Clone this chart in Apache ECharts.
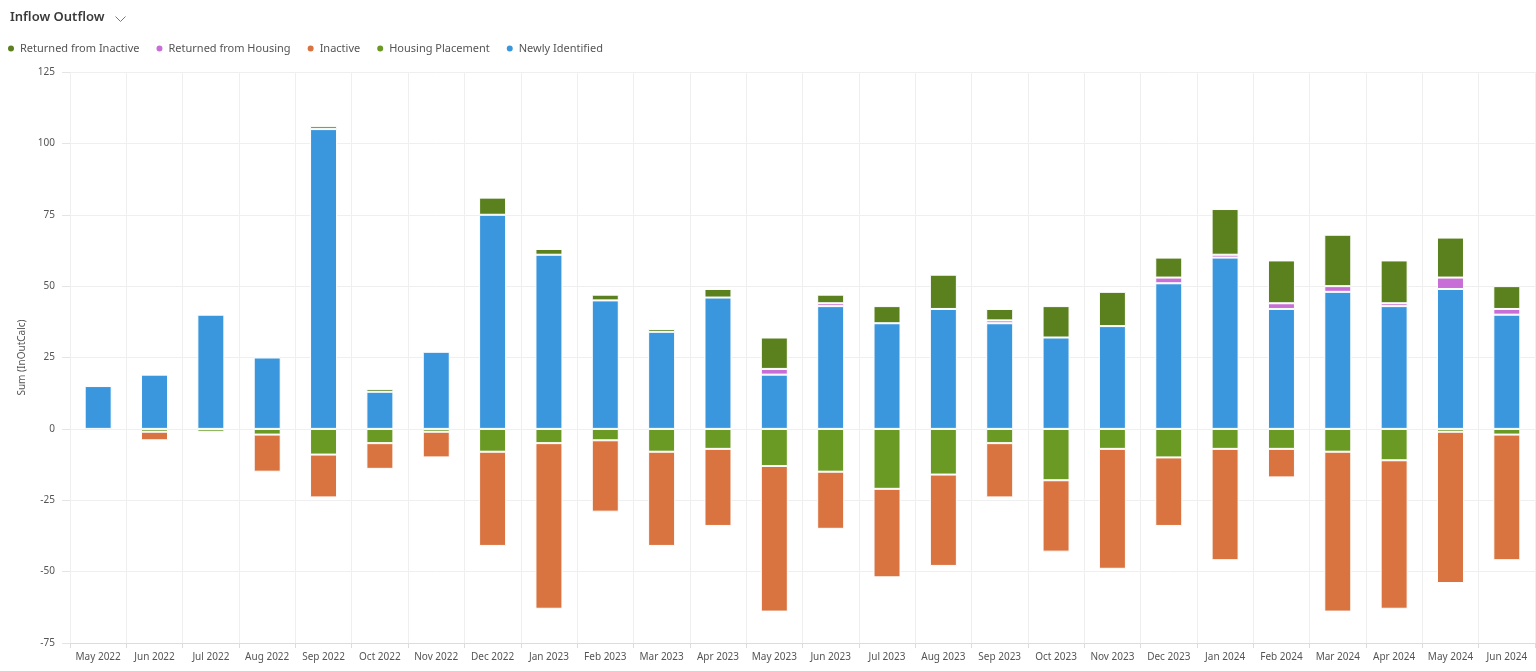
<!DOCTYPE html>
<html>
<head>
<meta charset="utf-8">
<script src="https://cdn.jsdelivr.net/npm/echarts@6/dist/echarts.min.js"></script>
<style>
html,body{margin:0;padding:0;background:#fff;}
#chart{width:1536px;height:671px;}
</style>
</head>
<body>
<div id="chart"></div>
<script>
const categories = ['May 2022','Jun 2022','Jul 2022','Aug 2022','Sep 2022','Oct 2022','Nov 2022','Dec 2022','Jan 2023','Feb 2023','Mar 2023','Apr 2023','May 2023','Jun 2023','Jul 2023','Aug 2023','Sep 2023','Oct 2023','Nov 2023','Dec 2023','Jan 2024','Feb 2024','Mar 2024','Apr 2024','May 2024','Jun 2024'];
const newlyIdentified   = [15, 19, 40, 25, 105, 13, 27, 75, 61, 45, 34, 46, 19, 43, 37, 42, 37, 32, 36, 51, 60, 42, 48, 43, 49, 40];
const returnedHousing   = [null, null, null, null, null, null, null, null, null, null, null, null, 2, 1, null, null, 1, null, null, 2, 1, 2, 2, 1, 4, 2];
const returnedInactive  = [null, null, null, null, 1, 1, null, 6, 2, 2, 1, 3, 11, 3, 6, 12, 4, 11, 12, 7, 16, 15, 18, 15, 14, 8];
const housingPlacement  = [null, -1, -1, -2, -9, -5, -1, -8, -5, -4, -8, -7, -13, -15, -21, -16, -5, -18, -7, -10, -7, -7, -8, -11, -1, -2];
const inactive          = [null, -3, null, -13, -15, -9, -9, -33, -58, -25, -33, -27, -51, -20, -31, -32, -19, -25, -42, -24, -39, -10, -56, -52, -53, -44];
const yTicks = { min: -75, max: 125, interval: 25 };

const FONT = "'Noto Sans', 'Open Sans', sans-serif";
const colors = {
  ni: '#3B97DD', hp: '#6A9A23', ina: '#D9733F', rh: '#C76FD6', ri: '#5B801E'
};
function bar(name, data, color) {
  return {
    name: name, type: 'bar', stack: 'total', data: data, barWidth: 27,
    itemStyle: { color: color, borderColor: '#fff', borderWidth: 1 },
    emphasis: { disabled: true }
  };
}
const chart = echarts.init(document.getElementById('chart'), null, { renderer: 'canvas' });
chart.setOption({
  animation: false,
  textStyle: { fontFamily: FONT },
  title: {
    text: 'Inflow Outflow', left: 5, top: 6,
    textStyle: { fontSize: 13, fontWeight: 600, color: '#3a3a3a', fontFamily: FONT }
  },
  graphic: [{
    type: 'polyline', left: 113, top: 14,
    shape: { points: [[0, 0], [5, 5], [10, 0]] },
    style: { stroke: '#777', lineWidth: 1, fill: null }
  }],
  legend: {
    left: 1, top: 38, icon: 'circle', itemWidth: 8, itemHeight: 8, itemGap: 15,
    data: ['Returned from Inactive', 'Returned from Housing', 'Inactive', 'Housing Placement', 'Newly Identified'],
    textStyle: { fontSize: 11, color: '#555', fontFamily: FONT }
  },
  grid: { left: 70, right: 1, top: 72, bottom: 28, containLabel: false },
  xAxis: {
    type: 'category', data: categories,
    axisLine: { onZero: false, lineStyle: { color: '#dcdcdc' } },
    axisTick: { show: true, length: 5, lineStyle: { color: '#dcdcdc' } },
    axisLabel: { fontSize: 10, color: '#555', margin: 9, interval: 0 },
    splitLine: { show: true, lineStyle: { color: '#efefef' } }
  },
  yAxis: {
    type: 'value', min: yTicks.min, max: yTicks.max, interval: yTicks.interval,
    name: 'Sum (InOutCalc)', nameLocation: 'middle', nameGap: 40,
    nameTextStyle: { fontSize: 10, color: '#555' },
    axisLine: { show: false },
    axisTick: { show: true, length: 8, lineStyle: { color: '#e4e4e4' } },
    axisLabel: { fontSize: 10, color: '#555', margin: 15 },
    splitLine: { lineStyle: { color: '#efefef' } }
  },
  series: [
    bar('Newly Identified', newlyIdentified, colors.ni),
    bar('Housing Placement', housingPlacement, colors.hp),
    bar('Inactive', inactive, colors.ina),
    bar('Returned from Housing', returnedHousing, colors.rh),
    bar('Returned from Inactive', returnedInactive, colors.ri)
  ]
});
</script>
</body>
</html>
